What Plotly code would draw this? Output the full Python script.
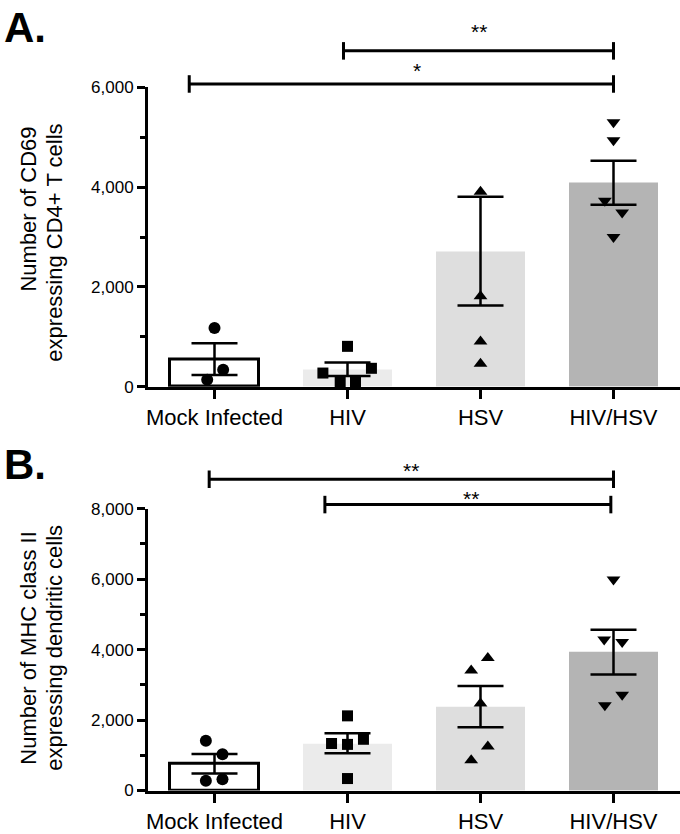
import plotly.graph_objects as go

# ---------------- data ----------------
categories = ["Mock Infected", "HIV", "HSV", "HIV/HSV"]

# Panel A: CD69+ CD4+ T cells
a_mean = [555, 350, 2720, 4090]
a_sem = [318, 135, 1090, 440]
a_mock = [1180, 340, 140]
a_hiv = [810, 370, 275, 90, 90]
a_hsv = [3910, 1815, 905, 460]
a_hivhsv = [5300, 4940, 3730, 3490, 3000]

# Panel B: MHC class II+ dendritic cells
b_mean = [760, 1340, 2380, 3930]
b_sem = [275, 285, 585, 636]
b_mock = [1410, 1030, 280, 320]
b_hiv = [2120, 1335, 1310, 1455, 340]
b_hsv = [3760, 3410, 2470, 1250, 860]
b_hivhsv = [5990, 4290, 4220, 2720, 2420]

a_ticks = [0, 2000, 4000, 6000]
b_ticks = [0, 2000, 4000, 6000, 8000]

a_title = ["Number of CD69", "expressing CD4+ T cells"]
b_title = ["Number of MHC class II", "expressing dendritic cells"]

# comparisons: (group from, group to, label)
a_comparisons = [(1, 3, "**"), (0, 3, "*")]
b_comparisons = [(0, 3, "**"), (1, 3, "**")]

# ---------------- styling / layout ----------------
W, H = 680, 834
LM = 148  # left edge of the plotting area (px)


def py(p):  # pixel row -> paper y
    return 1 - p / H


def px(p):  # pixel column -> paper x
    return (p - LM) / (W - LM)


bar_colors = ["white", "#ebebeb", "#dedede", "#b4b4b4"]
bar_line_w = [3, 0, 0, 0]
symbols = ["circle", "square", "triangle-up", "triangle-down"]
sizes = [12, 11, 12, 12]

a_jitter = [[0, 0.065, -0.055], [0, 0.18, -0.185, -0.055, 0.06], [0, 0, 0, 0], [0, 0, -0.065, 0.065, 0]]
b_jitter = [[-0.065, 0.06, -0.065, 0.06], [0, -0.12, 0, 0.12, 0], [0.055, -0.07, 0, 0.055, -0.07], [0, -0.07, 0.065, 0.065, -0.065]]

# panel pixel geometry
A_BOT, A_TOP = 388, 80.5
B_BOT, B_TOP = 802.7, 513.3


def dom(p, bot, top):
    return (bot - p) / (bot - top)


a_br = [dict(x0=-0.03, x1=0.0, y=dom(43, A_BOT, A_TOP), ty=dom(23, A_BOT, A_TOP), tx=0.0),
        dict(x0=-0.19, x1=0.0, y=dom(77, A_BOT, A_TOP), ty=dom(63, A_BOT, A_TOP), tx=0.12)]
b_br = [dict(x0=-0.04, x1=0.0, y=dom(483, B_BOT, B_TOP), ty=dom(474, B_BOT, B_TOP), tx=0.0),
        dict(x0=-0.17, x1=-0.02, y=dom(509, B_BOT, B_TOP), ty=dom(503, B_BOT, B_TOP), tx=0.02)]

TICKFONT = dict(family="Liberation Sans, Arial", size=17, color="black")
CATFONT = dict(family="Liberation Sans, Arial", size=22, color="black")
TITLEFONT = dict(family="Liberation Sans, Arial", size=22, color="black")

fig = go.Figure()


def add_panel(xa, ya, means, sems, groups, jitters):
    fig.add_trace(go.Bar(
        x=list(range(len(categories))), y=means, width=0.67,
        marker=dict(color=bar_colors, line=dict(color="black", width=bar_line_w)),
        error_y=dict(type="data", array=sems, visible=True, color="black", thickness=2.5, width=23),
        xaxis=xa, yaxis=ya, showlegend=False, hoverinfo="skip"))
    for i, pts in enumerate(groups):
        fig.add_trace(go.Scatter(
            x=[i + j for j in jitters[i]], y=pts, mode="markers",
            marker=dict(symbol=symbols[i], size=sizes[i], color="black", line=dict(width=0)),
            xaxis=xa, yaxis=ya, showlegend=False, cliponaxis=False, hoverinfo="skip"))


add_panel("x", "y", a_mean, a_sem, [a_mock, a_hiv, a_hsv, a_hivhsv], a_jitter)
add_panel("x2", "y2", b_mean, b_sem, [b_mock, b_hiv, b_hsv, b_hivhsv], b_jitter)

shapes = []
annotations = []


def add_brackets(xref, ydom, comps, br, cap):
    for (g0, g1, lab), b in zip(comps, br):
        x0 = g0 + b["x0"]
        x1 = g1 + b["x1"]
        line = dict(color="black", width=3)
        shapes.append(dict(type="line", xref=xref, yref=ydom, x0=x0, x1=x1, y0=b["y"], y1=b["y"], line=line))
        for xx in (x0, x1):
            shapes.append(dict(type="line", xref=xref, yref=ydom, x0=xx, x1=xx,
                               y0=b["y"] - cap, y1=b["y"] + cap, line=line))
        annotations.append(dict(xref=xref, yref=ydom, x=(x0 + x1) / 2 + b["tx"], y=b["ty"], text=lab,
                                showarrow=False, xanchor="center", yanchor="middle",
                                font=dict(family="Liberation Sans, Arial", size=21, color="black")))


add_brackets("x", "y domain", a_comparisons, a_br, 9 / (A_BOT - A_TOP))
add_brackets("x2", "y2 domain", b_comparisons, b_br, 9 / (B_BOT - B_TOP))


def add_title(lines, centers):
    for text, (cx, cy) in zip(lines, centers):
        annotations.append(dict(xref="paper", yref="paper", x=px(cx), y=py(cy), text=text, textangle=-90,
                                showarrow=False, xanchor="center", yanchor="middle", font=TITLEFONT))


add_title(a_title, [(29, 206), (55, 240)])
add_title(b_title, [(29, 656), (55, 656)])

annotations += [
    dict(xref="paper", yref="paper", x=px(2), y=py(-7), text="<b>A.</b>", showarrow=False,
         xanchor="left", yanchor="top", font=dict(family="Liberation Sans, Arial", size=42, color="black")),
    dict(xref="paper", yref="paper", x=px(2), y=py(468), text="<b>B.</b>", showarrow=False,
         xanchor="left", yanchor="middle", font=dict(family="Liberation Sans, Arial", size=42, color="black")),
]

xcommon = dict(range=[-0.5, 3.5], tickvals=list(range(len(categories))), ticktext=categories,
               showline=True, linecolor="black", linewidth=3, ticks="outside", ticklen=9, tickwidth=2.5,
               tickcolor="black", tickfont=CATFONT, showgrid=False, zeroline=False, fixedrange=True)
ycommon = dict(showline=True, linecolor="black", linewidth=3, ticks="outside", ticklen=8, tickwidth=2.5,
               tickcolor="black", tickfont=TICKFONT, tickformat=",", showgrid=False, zeroline=False,
               minor=dict(dtick=1000, ticks="outside", ticklen=5, tickwidth=2.5, tickcolor="black", showgrid=False))

fig.update_layout(
    width=W, height=H,
    margin=dict(l=LM, r=0, t=0, b=0),
    paper_bgcolor="white", plot_bgcolor="white",
    bargap=0,
    xaxis=dict(xcommon, anchor="y", domain=[0, 1]),
    yaxis=dict(ycommon, anchor="x", domain=[py(A_BOT), py(A_TOP)], range=[0, 6000], tickvals=a_ticks),
    xaxis2=dict(xcommon, anchor="y2", domain=[0, 1]),
    yaxis2=dict(ycommon, anchor="x2", domain=[py(B_BOT), py(B_TOP)], range=[0, 8000], tickvals=b_ticks),
    shapes=shapes, annotations=annotations,
)

# remove the browser's default 8px page margin so the figure fills the window exactly
fig.write_html("out.html", config={"displayModeBar": False},
               post_script="document.body.style.margin='0';document.body.style.overflow='hidden';")
